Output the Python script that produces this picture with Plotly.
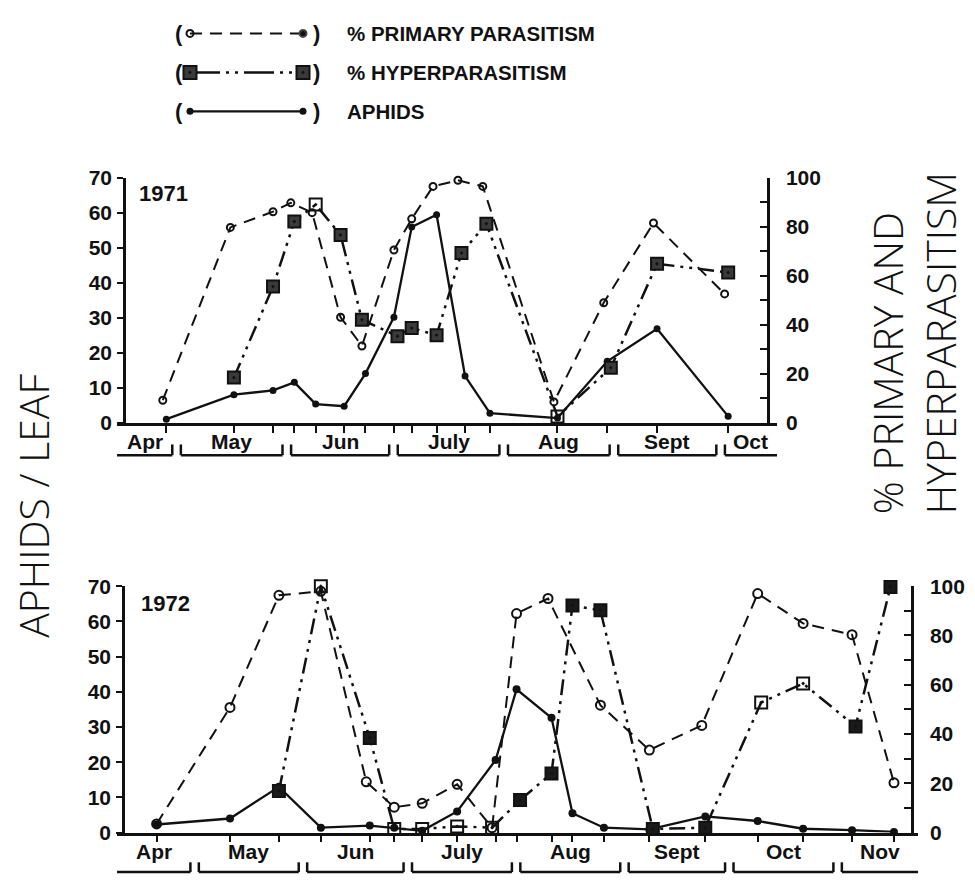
import plotly.graph_objects as go
import pandas as pd

# ---------------- DATA ----------------
# 1971
aph71_dates = ["1971-04-28", "1971-05-17", "1971-05-28", "1971-06-03", "1971-06-09", "1971-06-17",
               "1971-06-23", "1971-07-01", "1971-07-06", "1971-07-13", "1971-07-21", "1971-07-28",
               "1971-08-16", "1971-08-30", "1971-09-13", "1971-10-03"]
aph71 = [1.1, 8.1, 9.3, 11.6, 5.4, 4.8, 14.1, 30.2, 55.9, 59.4, 13.4, 2.8, 1.4, 17.6, 26.9, 1.9]

prim71_dates = ["1971-04-27", "1971-05-16", "1971-05-28", "1971-06-02", "1971-06-08", "1971-06-16",
                "1971-06-22", "1971-07-01", "1971-07-06", "1971-07-12", "1971-07-19", "1971-07-26",
                "1971-08-15", "1971-08-29", "1971-09-12", "1971-10-02"]
prim71 = [9.3, 79.7, 86.1, 89.7, 85.7, 43.1, 31.4, 70.5, 83.2, 96.4, 98.9, 96.4, 8.6, 49.0, 81.5, 52.6]

hyp71_dates = ["1971-05-17", "1971-05-28", "1971-06-03", "1971-06-09", "1971-06-16", "1971-06-22",
               "1971-07-02", "1971-07-06", "1971-07-13", "1971-07-20", "1971-07-27", "1971-08-16",
               "1971-08-31", "1971-09-13", "1971-10-03"]
hyp71 = [18.5, 55.6, 82.1, 89.0, 76.6, 42.1, 35.4, 38.7, 35.8, 69.3, 81.2, 2.7, 22.5, 64.9, 61.3]

# 1972
aph72_dates = ["1972-04-20", "1972-05-11", "1972-05-25", "1972-06-06", "1972-06-20", "1972-06-27",
               "1972-07-05", "1972-07-15", "1972-07-26", "1972-08-01", "1972-08-11", "1972-08-17",
               "1972-08-26", "1972-09-08", "1972-09-24", "1972-10-09", "1972-10-22", "1972-11-05",
               "1972-11-17"]
aph72 = [2.3, 4.0, 13.0, 1.4, 2.0, 1.4, 0.5, 6.0, 20.6, 40.7, 32.6, 5.5, 1.4, 0.9, 4.6, 3.3, 1.1, 0.7, 0.2]

prim72_dates = ["1972-04-20", "1972-05-11", "1972-05-25", "1972-06-06", "1972-06-19", "1972-06-27",
                "1972-07-05", "1972-07-15", "1972-07-25", "1972-08-01", "1972-08-10", "1972-08-25",
                "1972-09-08", "1972-09-23", "1972-10-09", "1972-10-22", "1972-11-05", "1972-11-17"]
prim72 = [3.5, 50.8, 96.3, 97.9, 20.6, 10.3, 11.9, 19.6, 2.0, 88.9, 95.0, 51.7, 33.5, 43.5, 97.0, 84.9,
          80.3, 20.2]

hyp72_dates = ["1972-05-25", "1972-06-06", "1972-06-20", "1972-06-27", "1972-07-05", "1972-07-15",
               "1972-07-25", "1972-08-02", "1972-08-11", "1972-08-17", "1972-08-25", "1972-09-09",
               "1972-09-24", "1972-10-10", "1972-10-22", "1972-11-06", "1972-11-16"]
hyp72 = [16.9, 100.0, 38.4, 1.5, 1.5, 2.5, 2.0, 13.2, 24.0, 92.2, 90.2, 1.5, 2.0, 52.8, 60.5, 43.1, 99.7]

months71 = ["Apr", "May", "Jun", "July", "Aug", "Sept", "Oct"]
months72 = ["Apr", "May", "Jun", "July", "Aug", "Sept", "Oct", "Nov"]

legend_names = ["% PRIMARY PARASITISM", "% HYPERPARASITISM", "APHIDS"]
left_title = "APHIDS / LEAF"
right_title = "% PRIMARY AND<br>HYPERPARASITISM"

# ---------------- STYLE ----------------
W, H = 975, 885
BLACK = "#111111"
BOLD = dict(family="Liberation Sans, Arial, sans-serif", size=21, color=BLACK, weight="bold")
THIN = dict(family="Open Sans, Roboto, sans-serif", size=41, color=BLACK, weight=300)
PRIM_DASH = "12px,8px"
HYP_DASH = "16px,6px,3px,6px,3px,6px"

# per-point marker look of hyperparasitism squares (True = dark/filled)
hyp71_dark = [True, True, True, False, True, True, True, True, True, True, True, False, True, True, True]
hyp72_dark = [True, False, True, False, False, False, False, True, True, True, True, True, True,
              False, False, True, True]


def px_x(p):
    return p / W


def px_y(p):
    return 1 - p / H


fig = go.Figure()

panels = [
    dict(year="1971", xa="x", ya="y", yb="y2", aph=(aph71_dates, aph71), prim=(prim71_dates, prim71),
         hyp=(hyp71_dates, hyp71), dark=hyp71_dark, psize=7, hsize=12, asize=7, hfill="#3a3a3a"),
    dict(year="1972", xa="x2", ya="y3", yb="y4", aph=(aph72_dates, aph72), prim=(prim72_dates, prim72),
         hyp=(hyp72_dates, hyp72), dark=hyp72_dark, psize=9, hsize=12, asize=8, hfill="#1a1a1a"),
]

for p in panels:
    # primary parasitism
    fig.add_trace(go.Scatter(
        x=p["prim"][0], y=p["prim"][1], xaxis=p["xa"], yaxis=p["yb"], mode="lines+markers",
        line=dict(color=BLACK, width=2, dash=PRIM_DASH),
        marker=dict(symbol="circle-open", size=p["psize"], color=BLACK, line=dict(width=2)),
        showlegend=False, cliponaxis=False))
    # hyperparasitism
    fig.add_trace(go.Scatter(
        x=p["hyp"][0], y=p["hyp"][1], xaxis=p["xa"], yaxis=p["yb"], mode="lines+markers",
        line=dict(color=BLACK, width=2.5, dash=HYP_DASH),
        marker=dict(symbol=["square-dot" if d else "square-open-dot" for d in p["dark"]],
                    size=p["hsize"],
                    color=[p["hfill"] if d else BLACK for d in p["dark"]],
                    line=dict(width=2, color=BLACK)),
        showlegend=False, cliponaxis=False))
    # aphids
    fig.add_trace(go.Scatter(
        x=p["aph"][0], y=p["aph"][1], xaxis=p["xa"], yaxis=p["ya"], mode="lines+markers",
        line=dict(color=BLACK, width=2.3),
        marker=dict(symbol="circle", size=p["asize"], color=BLACK),
        showlegend=False, cliponaxis=False))

# ---------------- LEGEND (custom keys in a hidden helper axis) ----------------
LEG_X0, LEG_X1 = 190, 303          # pixel span of key samples
LEG_ROW_PX = [22, 62, 102]         # pixel centre of each legend row
leg_rows = [3, 2, 1]
leg_y_dom = [px_y(LEG_ROW_PX[2] + 20), px_y(LEG_ROW_PX[0] - 20)]

key_styles = [
    dict(line=dict(color=BLACK, width=2, dash=PRIM_DASH),
         marker=dict(symbol=["circle-open", "circle"], size=7, color=BLACK, line=dict(width=2))),
    dict(line=dict(color=BLACK, width=2.5, dash="30px,6px,3px,6px,3px,6px"),
         marker=dict(symbol="square-dot", size=13, color="#3a3a3a", line=dict(width=2, color=BLACK))),
    dict(line=dict(color=BLACK, width=2.3),
         marker=dict(symbol="circle", size=7, color=BLACK)),
]
for row, ks in zip(leg_rows, key_styles):
    fig.add_trace(go.Scatter(x=[0, 1], y=[row, row], xaxis="x3", yaxis="y5", mode="lines+markers",
                             showlegend=False, hoverinfo="skip", cliponaxis=False, **ks))

annotations = []
LEGFONT = dict(family="Liberation Sans, Arial, sans-serif", size=20.5, color=BLACK, weight="bold")
for rpx, name in zip(LEG_ROW_PX, legend_names):
    annotations.append(dict(text="(", x=px_x(LEG_X0 - 11), y=px_y(rpx), xref="paper", yref="paper",
                            showarrow=False, font=dict(LEGFONT, size=22), xanchor="center", yanchor="middle"))
    annotations.append(dict(text=")", x=px_x(LEG_X1 + 13), y=px_y(rpx), xref="paper", yref="paper",
                            showarrow=False, font=dict(LEGFONT, size=22), xanchor="center", yanchor="middle"))
    annotations.append(dict(text=name, x=px_x(345), y=px_y(rpx), xref="paper", yref="paper",
                            showarrow=False, font=LEGFONT, xanchor="left", yanchor="middle"))

# ---------------- AXES ----------------
axis_common = dict(showgrid=False, zeroline=False, showline=True, linecolor=BLACK, linewidth=2.5,
                   tickcolor=BLACK, tickwidth=2, tickfont=BOLD)
minor_ticks = dict(dtick=10, ticks="inside", ticklen=7, tickwidth=2, tickcolor=BLACK)

layout = dict(
    width=W, height=H, margin=dict(l=0, r=0, t=0, b=0), paper_bgcolor="white", plot_bgcolor="white",
    showlegend=False,
    xaxis=dict(axis_common, domain=[px_x(117), px_x(777)], anchor="y", type="date",
               range=["1971-04-14 03:00", "1971-10-16 17:30"], ticks="outside", ticklen=7,
               tickvals=aph71_dates, showticklabels=False),
    yaxis=dict(axis_common, domain=[px_y(422), px_y(170)], anchor="free", position=px_x(124),
               range=[0, 70], dtick=10, ticks="outside", ticklen=6, ticklabelstandoff=1),
    yaxis2=dict(axis_common, overlaying="y", side="right", anchor="free", position=px_x(768),
                range=[0, 100], tick0=0, dtick=20, ticks="inside", ticklen=7, ticklabelstandoff=12,
                minor=minor_ticks),
    xaxis2=dict(axis_common, domain=[px_x(117), px_x(918)], anchor="y3", type="date",
                range=["1972-04-08 16:00", "1972-11-23 21:00"], ticks="outside", ticklen=7,
                tickvals=aph72_dates, showticklabels=False),
    yaxis3=dict(axis_common, domain=[px_y(842.5), px_y(589.5)], anchor="free", position=px_x(123),
                range=[0, 70], dtick=10, ticks="outside", ticklen=6, ticklabelstandoff=1),
    yaxis4=dict(axis_common, overlaying="y3", side="right", anchor="free", position=px_x(912),
                range=[0, 100], tick0=0, dtick=20, ticks="inside", ticklen=7, ticklabelstandoff=12,
                minor=minor_ticks),
    xaxis3=dict(domain=[px_x(LEG_X0), px_x(LEG_X1)], range=[0, 1], visible=False, anchor="y5",
                fixedrange=True),
    yaxis5=dict(domain=leg_y_dom, range=[0.5, 3.5], visible=False, anchor="x3", fixedrange=True),
)

# ---------------- MONTH BRACKETS ----------------
shapes = []


def month_brackets(year, names, xref, rng, label_y, line_y, tick_y):
    starts = [pd.Timestamp(f"{year}-{m:02d}-01") for m in range(4, 4 + len(names) + 1)]
    r0, r1 = pd.Timestamp(rng[0]), pd.Timestamp(rng[1])
    for i, name in enumerate(names):
        a = starts[i] + pd.Timedelta(hours=26)
        b = starts[i + 1] - pd.Timedelta(hours=32)
        left_open = i == 0
        right_open = i == len(names) - 1
        if left_open:
            a = r0
        if right_open:
            b = r1
        fa, fb = a.strftime("%Y-%m-%d %H:%M"), b.strftime("%Y-%m-%d %H:%M")
        ln = dict(color=BLACK, width=2.5)
        shapes.append(dict(type="line", xref=xref, yref="paper", x0=fa, x1=fb, y0=line_y, y1=line_y, line=ln))
        if not left_open:
            shapes.append(dict(type="line", xref=xref, yref="paper", x0=fa, x1=fa, y0=line_y, y1=tick_y, line=ln))
        if not right_open:
            shapes.append(dict(type="line", xref=xref, yref="paper", x0=fb, x1=fb, y0=line_y, y1=tick_y, line=ln))
        mid = a + (b - a) / 2
        annotations.append(dict(text=name, x=mid.strftime("%Y-%m-%d %H:%M"), y=label_y, xref=xref,
                                yref="paper", showarrow=False, font=BOLD, xanchor="center", yanchor="middle"))


month_brackets(1971, months71, "x", layout["xaxis"]["range"], px_y(441), px_y(455), px_y(444))
month_brackets(1972, months72, "x2", layout["xaxis2"]["range"], px_y(862), px_y(883), px_y(873))

# year labels
annotations.append(dict(text="1971", x=0.031, y=0.935, xref="x domain", yref="y domain", showarrow=False,
                        font=dict(BOLD, size=22), xanchor="left", yanchor="middle"))
annotations.append(dict(text="1972", x=0.027, y=0.93, xref="x2 domain", yref="y3 domain", showarrow=False,
                        font=dict(BOLD, size=22), xanchor="left", yanchor="middle"))

# axis titles
annotations.append(dict(text=left_title, x=px_x(33), y=px_y(507), xref="paper", yref="paper",
                        showarrow=False, textangle=-90, font=THIN, xanchor="center", yanchor="middle"))
annotations.append(dict(text=right_title, x=px_x(913), y=px_y(340), xref="paper", yref="paper",
                        showarrow=False, textangle=-90, font=THIN, align="left",
                        xanchor="center", yanchor="middle"))

layout["shapes"] = shapes
layout["annotations"] = annotations
fig.update_layout(**layout)

fig.write_html("out.html")
